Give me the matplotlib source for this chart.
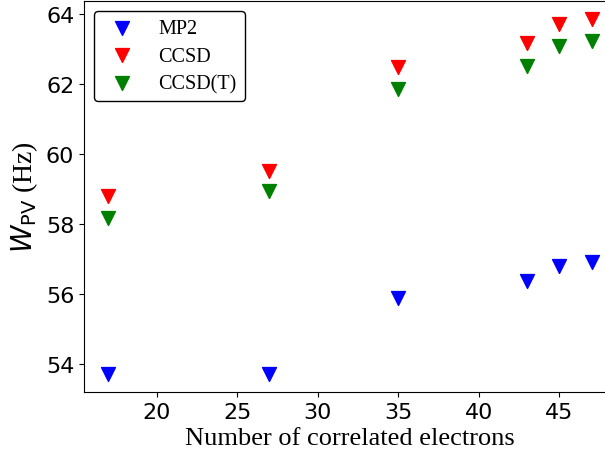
import matplotlib.pyplot as plt

# number of correlated electrons
n_elec = [17, 27, 35, 43, 45, 47]

# W_PV values (Hz) for each method
mp2 = [53.72, 53.72, 55.90, 56.37, 56.82, 56.93]
ccsd = [58.80, 59.51, 62.49, 63.17, 63.73, 63.87]
ccsd_t = [58.17, 58.94, 61.86, 62.53, 63.09, 63.23]

fig = plt.figure(figsize=(6.05, 4.56), dpi=100)
ax = fig.add_axes([0.139, 0.138, 0.879, 0.858])

ax.scatter(n_elec, mp2, marker='v', s=100, color='blue', label='MP2')
ax.scatter(n_elec, ccsd, marker='v', s=100, color='red', label='CCSD')
ax.scatter(n_elec, ccsd_t, marker='v', s=100, color='green', label='CCSD(T)')

ax.set_xticks([20, 25, 30, 35, 40, 45])
ax.set_yticks([54, 56, 58, 60, 62, 64])
ax.tick_params(labelsize=16)

ax.set_xlabel('Number of correlated electrons', family='Liberation Serif', fontsize=19)
ax.set_ylabel(r'$W_{\mathrm{PV}}$ (Hz)', family='Liberation Serif', fontsize=20)

leg = ax.legend(loc='upper left', prop={'family': 'Liberation Serif', 'size': 14.5},
                frameon=True, fancybox=True, labelspacing=0.42)
leg.get_frame().set_edgecolor('black')
leg.get_frame().set_alpha(1)

fig.savefig('out.png', dpi=100)
